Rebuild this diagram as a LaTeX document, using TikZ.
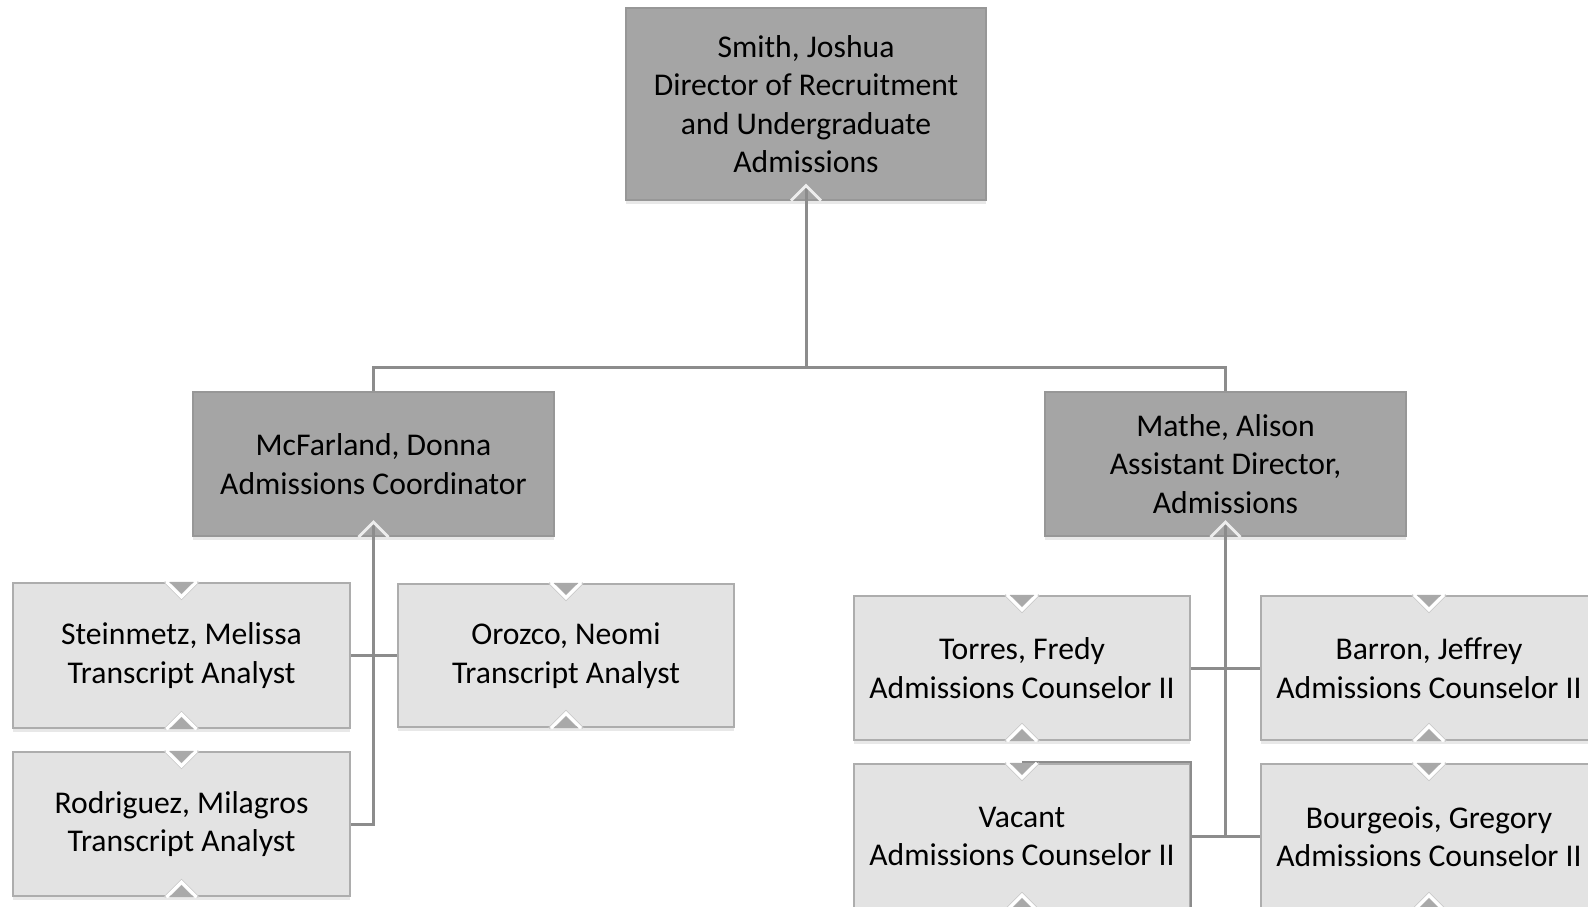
\documentclass[tikz,border=0pt]{standalone}
\usepackage{fontspec}
\setmainfont{Carlito}
\usetikzlibrary{shadows}

\definecolor{bossfill}{HTML}{A5A5A5}
\definecolor{bossedge}{HTML}{979797}
\definecolor{stafffill}{HTML}{E3E3E3}
\definecolor{staffedge}{HTML}{ADADAD}
\definecolor{linkgray}{HTML}{8C8C8C}
\definecolor{tabgray}{HTML}{A9A9A9}

\tikzset{
  box/.style={align=center, inner sep=0pt, line width=0.6pt,
    font=\fontsize{9}{10.95}\selectfont,
    drop shadow={shadow xshift=0pt, shadow yshift=-1.2pt, opacity=0.18}},
  bossbox/.style={box, fill=bossfill, draw=bossedge, minimum width=3.6cm},
  staffbox/.style={box, fill=stafffill, draw=staffedge,
    minimum width=3.36cm, minimum height=1.44cm},
  link/.style={draw=linkgray, line width=0.85pt},
}

\begin{document}
\begin{tikzpicture}[x=0.01cm,y=-0.01cm]
    \useasboundingbox (0,0) rectangle (1588,906);
    \node[bossbox, minimum height=1.91cm] (smith) at (806,104)
      {Smith, Joshua\\Director of Recruitment\\and Undergraduate\\Admissions};
    \node[bossbox, minimum height=1.44cm] (mcfarland) at (373.5,464)
      {McFarland, Donna\\Admissions Coordinator};
    \node[bossbox, minimum height=1.44cm] (mathe) at (1225.5,464)
      {Mathe, Alison\\Assistant Director,\\Admissions};
    \node[staffbox, minimum width=3.37cm, minimum height=1.45cm] (steinmetz) at (181.5,655.5)
      {Steinmetz, Melissa\\Transcript Analyst};
    \node[staffbox, minimum width=3.37cm] (rodriguez) at (181.5,824)
      {Rodriguez, Milagros\\Transcript Analyst};
    \node[staffbox, minimum height=1.43cm] (orozco) at (566,655.5)
      {Orozco, Neomi\\Transcript Analyst};
    \node[staffbox] (torres) at (1022,668)
      {Torres, Fredy\\Admissions Counselor II};
    \node[staffbox, minimum height=1.45cm] (vacant) at (1022,836.5)
      {Vacant\\Admissions Counselor II};
    \node[staffbox] (barron) at (1429,668)
      {Barron, Jeffrey\\Admissions Counselor II};
    \node[staffbox, minimum height=1.45cm] (bourgeois) at (1429,836.5)
      {Bourgeois, Gregory\\Admissions Counselor II};

    \coordinate (split) at (806,367);
    \draw[link] (smith.south) ++(0,-13) -- (split) -| (mcfarland.north);
    \draw[link] (split) -| (mathe.north);
    \draw[link] (mcfarland.south) ++(0,-13) |- (rodriguez.east);
    \draw[link] (steinmetz.east) -- (orozco.west);
    \draw[link] (mathe.south) ++(0,-13) -- (mathe.south |- bourgeois.west);
    \draw[link] (torres.east) -- (barron.west);
    \draw[link] (vacant.east) -- (bourgeois.west);
    \draw[link, line width=0.6pt] (vacant.north) ++(0,-1) -| (vacant.south east);

    \foreach \n in {smith,mcfarland,mathe} {
      \draw[white!80!bossfill, line width=0.8pt] (\n.south) ++(-15,0) -- ++(15,-15) -- ++(15,15);
    }
    \foreach \n in {steinmetz,rodriguez,orozco,torres,vacant,barron,bourgeois} {
      \draw[staffedge!70!white, line width=0.5pt] (\n.north) ++(-17,0) -- ++(17,17) -- ++(17,-17);
      \draw[white, line width=0.9pt] (\n.north) ++(-15,0) -- ++(15,15) -- ++(15,-15);
      \fill[tabgray] (\n.north) ++(-12,0) -- ++(12,12) -- ++(12,-12) -- cycle;
      \draw[staffedge!70!white, line width=0.5pt] (\n.south) ++(-17,0) -- ++(17,-17) -- ++(17,17);
      \draw[white, line width=0.9pt] (\n.south) ++(-15,0) -- ++(15,-15) -- ++(15,15);
      \fill[tabgray] (\n.south) ++(-12,0) -- ++(12,-12) -- ++(12,12) -- cycle;
    }
\end{tikzpicture}
\end{document}
